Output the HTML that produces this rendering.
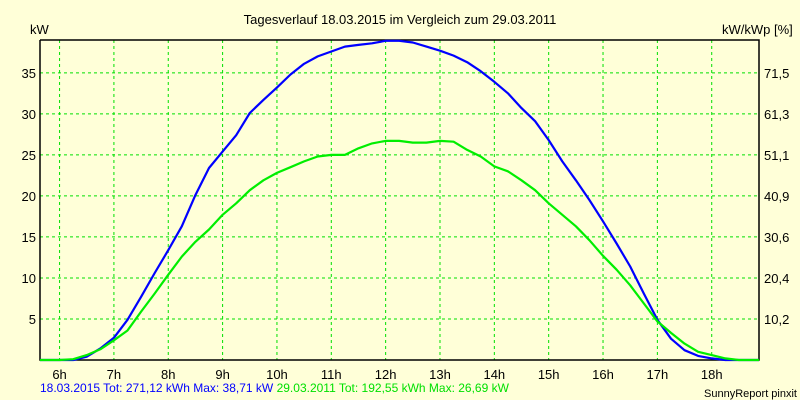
<!DOCTYPE html>
<html><head><meta charset="utf-8"><style>
body{margin:0;background:#ffffd8;}
svg{display:block;font-family:"Liberation Sans",sans-serif;}
</style></head><body>
<svg id="c" width="800" height="400">
<rect x="0" y="0" width="800" height="400" fill="#ffffd8"/>
<text x="400" y="24" font-size="13" text-anchor="middle">Tagesverlauf 18.03.2015 im Vergleich zum 29.03.2011</text>
<text x="30" y="34" font-size="13">kW</text>
<text x="722" y="34" font-size="13">kW/kWp [%]</text>
<g id="grid"></g>
<g id="axes"></g>
<g id="series"></g>
<text y="392" font-size="12"><tspan x="40" fill="#0000ff">18.03.2015 Tot: 271,12 kWh Max: 38,71 kW</tspan><tspan fill="#00e000"> 29.03.2011 Tot: 192,55 kWh Max: 26,69 kW</tspan></text>
<text x="797" y="397" font-size="11" text-anchor="end">SunnyReport pinxit</text>
</svg>
<script>
const hourTicks=[6,7,8,9,10,11,12,13,14,15,16,17,18];
const kwTicks=[5,10,15,20,25,30,35];
const pctLabels=["10,2","20,4","30,6","40,9","51,1","61,3","71,5"];
const hours=[5.64,6,6.25,6.5,6.75,7,7.25,7.5,7.75,8,8.25,8.5,8.75,9,9.25,9.5,9.75,10,10.25,10.5,10.75,11,11.25,11.5,11.75,12,12.25,12.5,12.75,13,13.25,13.5,13.75,14,14.25,14.5,14.75,15,15.25,15.5,15.75,16,16.25,16.5,16.75,17,17.25,17.5,17.75,18,18.25,18.5,18.87];
const kw2015=[0,0,0,0.4,1.4,2.7,4.9,7.7,10.6,13.4,16.3,20.1,23.4,25.4,27.4,30.1,31.7,33.2,34.8,36.1,37.0,37.6,38.2,38.4,38.6,38.9,38.9,38.7,38.2,37.7,37.1,36.3,35.2,33.9,32.5,30.7,29.1,26.8,24.2,21.9,19.5,16.9,14.2,11.4,8.1,4.9,2.6,1.2,0.5,0.2,0,0,0];
const kw2011=[0,0,0.1,0.6,1.3,2.4,3.6,5.9,8.1,10.4,12.6,14.4,15.9,17.7,19.1,20.7,21.9,22.8,23.5,24.2,24.8,25.0,25.0,25.8,26.4,26.7,26.7,26.5,26.5,26.7,26.6,25.6,24.8,23.6,23.0,21.9,20.7,19.1,17.7,16.3,14.6,12.7,11.0,9.1,6.9,4.7,3.3,2.0,1.0,0.6,0.2,0,0];
const L=40,R=759,T=40,B=360,H0=5.64,H1=18.87,YMAX=39;
const xS=h=>L+(h-H0)/(H1-H0)*(R-L);
const yS=v=>B-v/YMAX*(B-T);
const NS="http://www.w3.org/2000/svg";
function mk(tag,attrs,parent){const e=document.createElementNS(NS,tag);for(const k in attrs)e.setAttribute(k,attrs[k]);parent.appendChild(e);return e;}
const grid=document.getElementById('grid'),axes=document.getElementById('axes'),series=document.getElementById('series');
hourTicks.forEach(h=>{
  const x=xS(h);
  const g=mk('line',{x1:x,x2:x,y1:T,y2:B,stroke:'#00e000','stroke-dasharray':'3,3'},grid);
  
  
  const t=mk('text',{x:x,y:379,'font-size':13,'text-anchor':'middle'},axes);
  t.textContent=h+'h';
  
  
});
kwTicks.forEach((v,i)=>{
  const y=yS(v);
  const g=mk('line',{x1:L,x2:R,y1:y,y2:y,stroke:'#00e000','stroke-dasharray':'3,3'},grid);
  
  
  const t=mk('text',{x:36,y:y+5,'font-size':13,'text-anchor':'end'},axes);
  t.textContent=v;
  
  
  const t2=mk('text',{x:764,y:y+5,'font-size':13},axes);
  t2.textContent=pctLabels[i];
  
  
});
const fr=mk('path',{d:`M${L} ${T}V${B}H${R}V${T}H${L}`,fill:'none',stroke:'#000','stroke-width':1.5},axes);


function line(vals,col,name){
  const d=vals.map((v,i)=>(i?'L':'M')+xS(hours[i]).toFixed(1)+' '+yS(v).toFixed(1)).join('');
  const p=mk('path',{d:d,fill:'none',stroke:col,'stroke-width':2.2,'stroke-linejoin':'round'},series);
  
  
}
line(kw2015,'#0000ff','line-2015');
line(kw2011,'#00ee00','line-2011');
</script>
</body></html>
